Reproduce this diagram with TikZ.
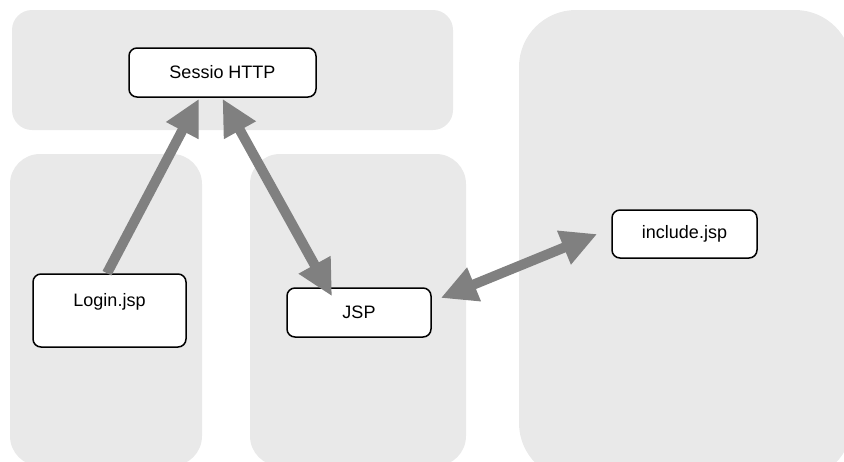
\documentclass[tikz,border=0pt]{standalone}
\usepackage{fontspec}
\setmainfont{Liberation Sans}
\usetikzlibrary{arrows.meta}

\definecolor{panelgray}{HTML}{E9E9E9}
\definecolor{linkgray}{HTML}{808080}

\tikzset{
  panel/.style={fill=panelgray},
  page/.style={draw=black, line width=1.5pt, fill=white, rounded corners=8pt,
    inner sep=0pt, font=\fontsize{18}{21}\selectfont},
  bighead/.style={Triangle[width=34pt,length=36pt]},
  link/.style={draw=linkgray, line width=10pt, -{Triangle[width=34pt,length=36pt]}},
  twolink/.style={draw=linkgray, line width=10pt,
    {Triangle[width=34pt,length=36pt]}-{Triangle[width=34pt,length=36pt]}},
}

\begin{document}
\begin{tikzpicture}[x=1pt,y=-1pt]
	\useasboundingbox (0,0) rectangle (844,461);
	\clip (0,0) rectangle (844,461);
	% grey areas
	\fill[panel, rounded corners=20pt] (12,10) rectangle (453,130);
	\fill[panel, rounded corners=30pt] (10,154) rectangle (202,466);
	\fill[panel, rounded corners=30pt] (250,154) rectangle (466,466);
	\fill[panel, rounded corners=57pt] (519,10) rectangle (852,480);
	% pages
	\node[page, minimum width=187pt, minimum height=49pt] (sessio) at (222.5,72.5) {Sessio HTTP};
	\node[page, text width=153pt, align=center, text height=32pt, text depth=41pt] (login) at (109.5,310.5) {Login.jsp};
	\node[page, minimum width=144pt, minimum height=49pt] (jsp) at (359,312.5) {JSP};
	\node[page, minimum width=145pt, minimum height=48pt] (incl) at (684.5,234) {include.jsp};
	% links
	\draw [link] ([xshift=-2.5pt]login.north) -- ([xshift=-23.5pt,yshift=-1pt]sessio.south);
	\draw [twolink] ([yshift=-1pt]sessio.south) -- ([xshift=-27pt,yshift=-9pt]jsp.north);
	\draw [twolink] ([xshift=9pt,yshift=14.5pt]jsp.east) -- ([xshift=-14pt]incl.west);
\end{tikzpicture}
\end{document}
